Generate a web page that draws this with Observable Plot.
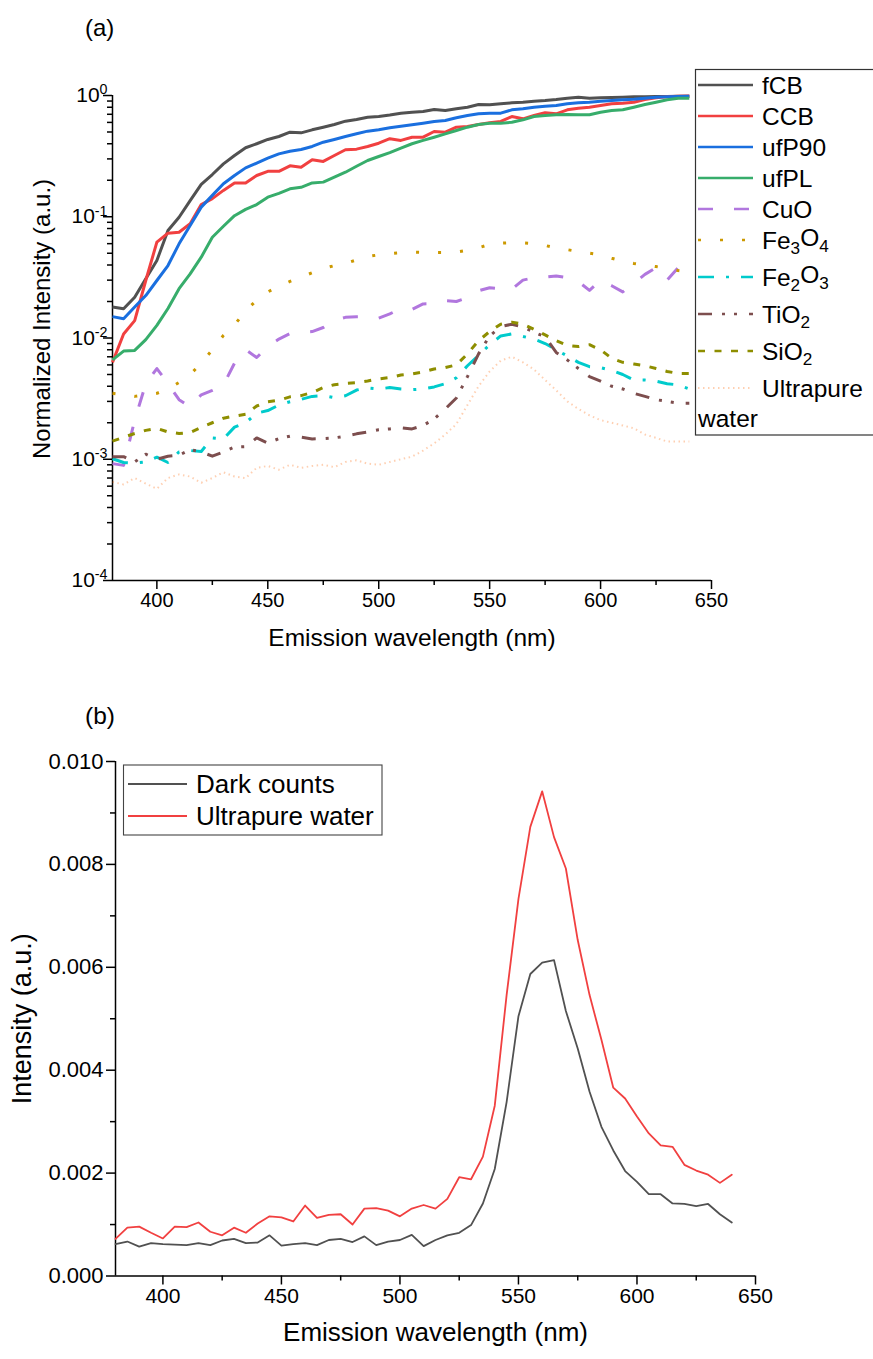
<!DOCTYPE html>
<html>
<head>
<meta charset="utf-8">
<script src="https://cdn.jsdelivr.net/npm/d3@7"></script>
<script src="https://cdn.jsdelivr.net/npm/@observablehq/plot@0.6"></script>
<style>
  html, body { margin: 0; padding: 0; background: #fff; overflow: hidden; }
  #wrap { position: relative; width: 873px; height: 1359px; }
  .layer { position: absolute; left: 0; }
</style>
</head>
<body>
<div id="wrap"></div>
<script>
// ---------------- DATA ----------------
const wavelength = [380,385,390,395,400,405,410,415,420,425,430,435,440,445,450,455,460,465,470,475,480,485,490,495,500,505,510,515,520,525,530,535,540,545,550,555,560,565,570,575,580,585,590,595,600,605,610,615,620,625,630,635,640];

// Panel (a): normalized intensities
const fCB = [0.0180,0.0174,0.0217,0.0308,0.0436,0.0771,0.0991,0.136,0.185,0.223,
  0.273,0.320,0.371,0.400,0.434,0.459,0.498,0.492,0.521,0.548,
  0.577,0.614,0.634,0.662,0.671,0.690,0.713,0.728,0.738,0.767,
  0.752,0.777,0.801,0.843,0.838,0.854,0.870,0.881,0.898,0.910,
  0.927,0.951,0.969,0.951,0.957,0.963,0.969,0.975,0.978,0.980,
  0.982,0.985,0.985];
const CCB = [0.0063,0.0108,0.0139,0.0298,0.0617,0.0732,0.0746,0.0875,0.126,0.141,
  0.165,0.190,0.190,0.219,0.237,0.237,0.263,0.256,0.295,0.286,
  0.320,0.357,0.361,0.380,0.404,0.440,0.426,0.453,0.453,0.505,
  0.498,0.548,0.555,0.577,0.595,0.611,0.671,0.642,0.684,0.720,
  0.706,0.762,0.786,0.801,0.827,0.854,0.865,0.881,0.927,0.957,
  0.975,0.985,0.990];
const ufP90 = [0.0150,0.0144,0.0180,0.0224,0.0298,0.0396,0.0598,0.0847,0.120,0.150,
  0.187,0.219,0.253,0.277,0.304,0.330,0.347,0.359,0.380,0.412,
  0.434,0.459,0.483,0.508,0.521,0.543,0.558,0.573,0.591,0.611,
  0.622,0.655,0.684,0.706,0.715,0.715,0.762,0.777,0.801,0.817,
  0.827,0.854,0.870,0.881,0.898,0.910,0.921,0.933,0.951,0.969,
  0.975,0.980,0.985];
const ufPL = [0.0066,0.0078,0.0079,0.0097,0.0127,0.0175,0.0255,0.0338,0.0464,0.0678,
  0.0835,0.102,0.115,0.126,0.145,0.156,0.170,0.175,0.190,0.193,
  0.212,0.233,0.261,0.291,0.314,0.338,0.368,0.400,0.426,0.453,
  0.483,0.514,0.548,0.577,0.591,0.591,0.602,0.630,0.671,0.684,
  0.693,0.697,0.693,0.693,0.728,0.752,0.762,0.801,0.843,0.881,
  0.921,0.951,0.951];
const CuO = [0.00092,0.00089,0.0021,0.0042,0.0056,0.0042,0.0031,0.0027,0.0034,0.0037,
  0.0041,0.0062,0.0080,0.0069,0.0085,0.0098,0.0109,0.0111,0.0113,0.0122,
  0.0140,0.0148,0.0150,0.0150,0.0146,0.0158,0.0175,0.0172,0.0191,0.0192,
  0.0203,0.0200,0.0215,0.0245,0.0260,0.0254,0.0252,0.0300,0.0314,0.0318,
  0.0325,0.0315,0.0292,0.0247,0.0300,0.0270,0.0240,0.0282,0.0335,0.0380,
  0.0300,0.0380,0.0289];
const Fe3O4 = [0.0035,0.0034,0.0033,0.0034,0.0035,0.0038,0.0043,0.0050,0.0062,0.0080,
  0.0105,0.0128,0.0168,0.0205,0.0240,0.0268,0.0293,0.0318,0.0345,0.0375,
  0.0395,0.0412,0.0440,0.0470,0.0485,0.0497,0.0505,0.0510,0.0508,0.0507,
  0.0507,0.0512,0.0530,0.0555,0.0590,0.0605,0.0610,0.0608,0.0600,0.0580,
  0.0552,0.0535,0.0517,0.0500,0.0485,0.0455,0.0430,0.0412,0.0400,0.0388,
  0.0375,0.0360,0.0350];
const Fe2O3 = [0.00101,0.00094,0.00093,0.00095,0.00104,0.00094,0.00115,0.00118,0.00116,0.00150,
  0.00147,0.00184,0.00200,0.00240,0.00252,0.00280,0.00298,0.00312,0.00330,0.00335,
  0.00322,0.00334,0.00372,0.00388,0.00380,0.00390,0.00380,0.00375,0.00380,0.00395,
  0.00420,0.00470,0.00590,0.00720,0.00880,0.01040,0.01080,0.01030,0.00980,0.00900,
  0.00800,0.00710,0.00630,0.00580,0.00570,0.00540,0.00500,0.00450,0.00450,0.00440,
  0.00420,0.00410,0.00380];
const TiO2 = [0.00105,0.00105,0.00095,0.00110,0.00100,0.00106,0.00108,0.00120,0.00115,0.00106,
  0.00115,0.00126,0.00127,0.00150,0.00136,0.00148,0.00155,0.00152,0.00147,0.00148,
  0.00150,0.00155,0.00162,0.00168,0.00175,0.00178,0.00182,0.00178,0.00190,0.00215,
  0.00260,0.00320,0.00480,0.00740,0.01040,0.01240,0.01300,0.01230,0.01120,0.01020,
  0.00760,0.00660,0.00560,0.00480,0.00440,0.00400,0.00380,0.00350,0.00330,0.00310,
  0.00300,0.00290,0.00290];
const SiO2 = [0.00141,0.00152,0.00163,0.00173,0.00180,0.00168,0.00163,0.00166,0.00183,0.00200,
  0.00218,0.00227,0.00235,0.00275,0.00298,0.00307,0.00327,0.00335,0.00355,0.00390,
  0.00412,0.00422,0.00428,0.00442,0.00460,0.00472,0.00495,0.00505,0.00525,0.00555,
  0.00570,0.00600,0.00740,0.00950,0.01130,0.01300,0.01350,0.01300,0.01180,0.01060,
  0.00950,0.00870,0.00850,0.00880,0.00800,0.00680,0.00630,0.00610,0.00590,0.00560,
  0.00530,0.00510,0.00510];
const waterA = [0.00065,0.00062,0.00070,0.00063,0.00057,0.00070,0.00075,0.00072,0.00064,0.00070,
  0.00078,0.00072,0.00070,0.00085,0.00088,0.00082,0.00090,0.00085,0.00088,0.00090,
  0.00086,0.00095,0.00098,0.00092,0.00090,0.00095,0.00100,0.00105,0.00118,0.00135,
  0.00160,0.00195,0.00280,0.00400,0.00530,0.00650,0.00700,0.00630,0.00550,0.00450,
  0.00370,0.00300,0.00260,0.00230,0.00210,0.00200,0.00190,0.00180,0.00160,0.00150,
  0.00140,0.00140,0.00140];

// Panel (b): raw intensities
const darkB = [0.00062,0.00067,0.00057,0.00064,0.00062,0.00061,0.00060,0.00064,0.00060,0.00069,
  0.00072,0.00064,0.00065,0.00079,0.00059,0.00062,0.00064,0.00060,0.00070,0.00072,
  0.00066,0.00077,0.00060,0.00067,0.00070,0.00080,0.00058,0.00070,0.00079,0.00084,
  0.00099,0.00141,0.00208,0.00338,0.00505,0.00587,0.00609,0.00614,0.00515,0.00442,
  0.00358,0.00290,0.00244,0.00204,0.00183,0.00159,0.00159,0.00141,0.00140,0.00136,
  0.00140,0.00120,0.00104];
const waterB = [0.00072,0.00094,0.00096,0.00084,0.00073,0.00096,0.00095,0.00104,0.00086,0.00079,
  0.00094,0.00084,0.00102,0.00116,0.00114,0.00106,0.00137,0.00113,0.00119,0.00120,
  0.00100,0.00131,0.00132,0.00127,0.00116,0.00131,0.00138,0.00131,0.00150,0.00192,
  0.00188,0.00232,0.00331,0.00546,0.00733,0.00873,0.00942,0.00853,0.00792,0.00653,
  0.00546,0.00459,0.00366,0.00345,0.00310,0.00277,0.00254,0.00251,0.00216,0.00205,
  0.00197,0.00181,0.00197];

// Series names / legend labels ("_" marks a subscript digit, "|" a line break)
const namesA  = ["fCB","CCB","ufP90","ufPL","CuO","Fe3O4","Fe2O3","TiO2","SiO2","Ultrapure water"];
const labelsA = ["fCB","CCB","ufP90","ufPL","CuO","Fe_3O_4","Fe_2O_3","TiO_2","SiO_2","Ultrapure|water"];
const valuesA = [fCB, CCB, ufP90, ufPL, CuO, Fe3O4, Fe2O3, TiO2, SiO2, waterA];
const namesB  = ["Dark counts","Ultrapure water"];
const valuesB = [darkB, waterB];

// Tick values
const xMajor = [400,450,500,550,600,650];
const xMinor = [425,475,525,575,625];
const yMajorA = [1e-4,1e-3,1e-2,1e-1,1];
const yMinorA = [2e-4,3e-4,4e-4,5e-4,6e-4,7e-4,8e-4,9e-4,2e-3,3e-3,4e-3,5e-3,6e-3,7e-3,8e-3,9e-3,
                 2e-2,3e-2,4e-2,5e-2,6e-2,7e-2,8e-2,9e-2,0.2,0.3,0.4,0.5,0.6,0.7,0.8,0.9];
const yMajorB = [0,0.002,0.004,0.006,0.008,0.010];
const yMinorB = [0.001,0.003,0.005,0.007,0.009];

const xTitle = "Emission wavelength (nm)";
const yTitleA = "Normalized Intensity (a.u.)";
const yTitleB = "Intensity (a.u.)";

// ---------------- STYLES ----------------
const FONT = '"Liberation Sans", Arial, Helvetica, sans-serif';
const stylesA = [
  {color:"#515151", width:3,   dash:null},
  {color:"#F14040", width:3,   dash:null},
  {color:"#1A6FDF", width:3,   dash:null},
  {color:"#37AD6B", width:3,   dash:null},
  {color:"#B177DE", width:3,   dash:"15,21"},
  {color:"#CC9900", width:3,   dash:"3,19"},
  {color:"#00CBCC", width:3,   dash:"16,12,3,12"},
  {color:"#7D4E4E", width:3,   dash:"14,10,3,9,3,12"},
  {color:"#8E8E00", width:3,   dash:"7,9.5"},
  {color:"#FB6501", width:2,   dash:"1.5,3.5", opacity:0.3}
];
const stylesB = [
  {color:"#515151", width:1.8},
  {color:"#F14040", width:1.8}
];

const wrap = document.getElementById("wrap");

// ---------------- PANEL (a) ----------------
const rowsA = namesA.flatMap((n, k) => wavelength.map((w, i) => ({series: n, w, v: valuesA[k][i]})));
const linesA = namesA.map((n, k) => Plot.line(rowsA.filter(d => d.series === n), {
  x: "w", y: "v",
  stroke: stylesA[k].color,
  strokeWidth: stylesA[k].width,
  strokeDasharray: stylesA[k].dash || undefined,
  strokeOpacity: stylesA[k].opacity ?? 1,
  strokeLinejoin: "round",
  strokeLinecap: "butt"
}));

const plotA = Plot.plot({
  width: 873, height: 680,
  marginTop: 95, marginBottom: 100, marginLeft: 112, marginRight: 162,
  x: {domain: [380, 650]},
  y: {type: "log", domain: [1e-4, 1]},
  style: {fontFamily: FONT, fontSize: "20px", color: "#000", background: "transparent", overflow: "visible"},
  marks: [
    Plot.axisX({ticks: xMajor, tickSize: 9, tickPadding: 3, tickFormat: d => String(d), strokeWidth: 1.5, label: null, fontSize: 20}),
    Plot.axisX({ticks: xMinor, tickSize: 5, tickFormat: () => "", strokeWidth: 1.5, label: null}),
    Plot.axisY({ticks: yMajorA, tickSize: 9, tickPadding: -4, tickFormat: d => "10^" + Math.round(Math.log10(d)), strokeWidth: 1.5, label: null, fontSize: 21}),
    Plot.axisY({ticks: yMinorA, tickSize: 5, tickFormat: () => "", strokeWidth: 1.5, label: null}),
    Plot.ruleX([380], {strokeWidth: 1.5}),
    Plot.ruleY([1e-4], {strokeWidth: 1.5}),
    ...linesA,
    Plot.text([xTitle], {text: d => d, frameAnchor: "bottom", textAnchor: "middle", dy: 65, fontSize: 24.5}),
    Plot.text([yTitleA], {text: d => d, frameAnchor: "middle", textAnchor: "middle", rotate: -90, dx: -369.5, dy: -19, fontSize: 24})
  ]
});
plotA.classList.add("layer");
plotA.style.top = "0px";
wrap.appendChild(plotA);

// superscript exponents on log tick labels
d3.select(plotA).selectAll("text").each(function() {
  const m = /^10\^(-?\d+)$/.exec(this.textContent);
  if (!m) return;
  const t = d3.select(this);
  t.text("");
  t.append("tspan").text("10");
  t.append("tspan").attr("dy", "-0.55em").attr("font-size", "0.68em").text(m[1]);
});

// helper to write labels with subscripts
function writeLabel(textSel, label) {
  const parts = label.split(/(_\d)/).filter(s => s.length);
  let shifted = false;
  parts.forEach(p => {
    if (p.startsWith("_")) {
      textSel.append("tspan").attr("dy", "0.32em").attr("font-size", "0.7em").text(p.slice(1));
      shifted = true;
    } else {
      const ts = textSel.append("tspan").text(p);
      if (shifted) { ts.attr("dy", "-0.32em"); shifted = false; }
    }
  });
}

// legend (a)
const legA = d3.create("svg").attr("class", "layer").attr("width", 873).attr("height", 680)
  .style("top", "0px").style("font-family", FONT);
legA.append("text").attr("x", 85).attr("y", 28).attr("dy", "0.35em")
  .attr("font-size", 24).attr("font-family", '"Liberation Sans Narrow", ' + FONT).text("(a)");
legA.append("rect").attr("x", 695.5).attr("y", 69.5).attr("width", 200).attr("height", 365.5)
  .attr("fill", "#fff").attr("stroke", "#333").attr("stroke-width", 1.2);
let yy = 85;
labelsA.forEach((lab, k) => {
  if (k > 0) yy += 31 + (/_/.test(labelsA[k - 1]) ? 6 : 0);
  const s = stylesA[k];
  legA.append("line").attr("x1", 698).attr("x2", 753).attr("y1", yy).attr("y2", yy)
    .attr("stroke", s.color).attr("stroke-width", s.width === 3 ? 2.6 : s.width)
    .attr("stroke-dasharray", s.dash).attr("stroke-opacity", s.opacity ?? 1);
  const lines = lab.split("|");
  const t = legA.append("text").attr("x", 762).attr("y", yy).attr("dy", "0.35em").attr("font-size", 24.5);
  writeLabel(t, lines[0]);
  if (lines[1]) {
    legA.append("text").attr("x", 698).attr("y", yy + 30).attr("dy", "0.35em").attr("font-size", 24.5).text(lines[1]);
  }
});
wrap.appendChild(legA.node());

// ---------------- PANEL (b) ----------------
const rowsB = namesB.flatMap((n, k) => wavelength.map((w, i) => ({series: n, w, v: valuesB[k][i]})));
const linesB = namesB.map((n, k) => Plot.line(rowsB.filter(d => d.series === n), {
  x: "w", y: "v", stroke: stylesB[k].color, strokeWidth: stylesB[k].width, strokeLinejoin: "round"
}));

const plotB = Plot.plot({
  width: 873, height: 679,
  marginTop: 81, marginBottom: 83.5, marginLeft: 115, marginRight: 118,
  x: {domain: [380, 650]},
  y: {domain: [0, 0.010]},
  style: {fontFamily: FONT, fontSize: "21px", color: "#000", background: "transparent", overflow: "visible"},
  marks: [
    Plot.axisX({ticks: xMajor, tickSize: 9, tickPadding: 3, tickFormat: d => String(d), strokeWidth: 1.5, label: null, fontSize: 21}),
    Plot.axisX({ticks: xMinor, tickSize: 5, tickFormat: () => "", strokeWidth: 1.5, label: null}),
    Plot.axisY({ticks: yMajorB, tickSize: 9, tickPadding: 3, tickFormat: d3.format(".3f"), strokeWidth: 1.5, label: null, fontSize: 22}),
    Plot.axisY({ticks: yMinorB, tickSize: 5, tickFormat: () => "", strokeWidth: 1.5, label: null}),
    Plot.ruleX([380], {strokeWidth: 1.5}),
    Plot.ruleY([0], {strokeWidth: 1.5}),
    ...linesB,
    Plot.text([xTitle], {text: d => d, frameAnchor: "bottom", textAnchor: "middle", dy: 65, fontSize: 26}),
    Plot.text([yTitleB], {text: d => d, frameAnchor: "middle", textAnchor: "middle", rotate: -90, dx: -413, dy: 0, fontSize: 27})
  ]
});
plotB.classList.add("layer");
plotB.style.top = "680px";
wrap.appendChild(plotB);

// legend (b)
const legB = d3.create("svg").attr("class", "layer").attr("width", 873).attr("height", 679)
  .style("top", "680px").style("font-family", FONT);
legB.append("text").attr("x", 85).attr("y", 35).attr("dy", "0.35em").attr("font-size", 24.5).text("(b)");
legB.append("rect").attr("x", 123.5).attr("y", 85).attr("width", 258.5).attr("height", 70)
  .attr("fill", "#fff").attr("stroke", "#444").attr("stroke-width", 1.1);
namesB.forEach((n, k) => {
  const y = 104 + 32 * k;
  legB.append("line").attr("x1", 128).attr("x2", 187).attr("y1", y).attr("y2", y)
    .attr("stroke", stylesB[k].color).attr("stroke-width", stylesB[k].width);
  legB.append("text").attr("x", 196).attr("y", y).attr("dy", "0.35em").attr("font-size", 26).text(n);
});
wrap.appendChild(legB.node());
</script>
</body>
</html>
